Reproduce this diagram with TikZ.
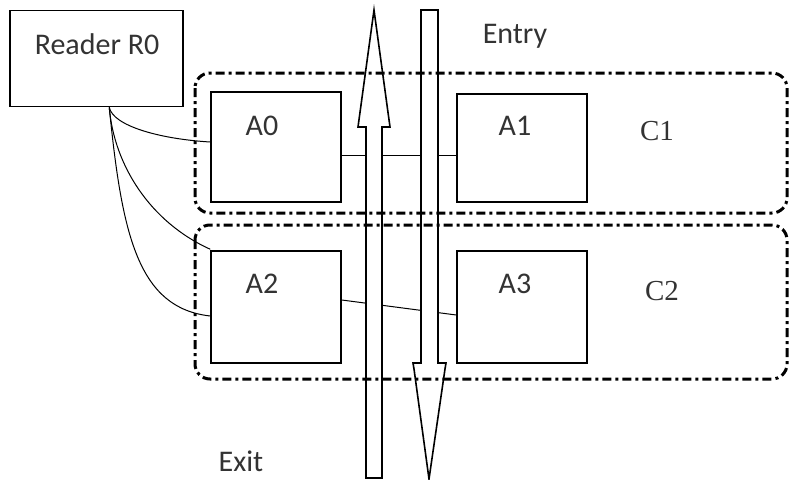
\documentclass[tikz,border=0pt]{standalone}
\usepackage{fontspec}
\setmainfont{Carlito}
\newfontfamily\cserif{Liberation Serif}
\usetikzlibrary{calc}
\tikzset{
  boxnode/.style={draw=black, line width=1.5pt, fill=white, inner sep=0pt},
  lbl/.style={font=\fontsize{30}{32}\selectfont, text=black!80, inner sep=0pt},
  clbl/.style={font=\cserif\fontsize{29}{31}\selectfont, text=black!80, inner sep=0pt},
  wire/.style={draw=black, line width=1pt},
  frame/.style={draw=black, line width=3pt, rounded corners=15pt,
     dash pattern=on 9pt off 4pt on 3pt off 4pt},
  bigarrow/.style={draw=black, line width=1.6pt, fill=white}
}
\begin{document}
\begin{tikzpicture}[x=1pt,y=-1pt]
\useasboundingbox (0,0) rectangle (789,479);
% boxes
\node[boxnode, minimum width=173pt, minimum height=96pt] (R) at (96.5,58.5) {};
\node[lbl] (Rt) at (97,44) {Reader R0};
\node[boxnode, minimum width=130pt, minimum height=110pt] (A0) at (276,147) {};
\node[lbl] (A0t) at (262,126) {A0};
\node[boxnode, minimum width=130pt, minimum height=108pt] (A1) at (522,148) {};
\node[lbl] (A1t) at (515,126) {A1};
\node[boxnode, minimum width=130pt, minimum height=112pt] (A2) at (276,307) {};
\node[lbl] (A2t) at (262,284) {A2};
\node[boxnode, minimum width=130pt, minimum height=112pt] (A3) at (522,307) {};
\node[lbl] (A3t) at (515,284) {A3};
\node[clbl] (C1) at (657,131) {C1};
\node[clbl] (C2) at (662,291) {C2};
\node[lbl] (En) at (515,36) {Entry};
\node[lbl] (Ex) at (241,461) {Exit};
% connector ends
\coordinate (r0) at ($(R.south west)+(100,0)$);
\coordinate (a0w) at ($(A0.west)+(0,-5)$);
\coordinate (a2t) at ($(A2.north west)+(0,-1)$);
\coordinate (a2w) at ($(A2.west)+(0,9)$);
\coordinate (a0e) at ($(A0.east)+(0,8)$);
\coordinate (a1w) at ($(A1.west)+(0,7)$);
\coordinate (a2e) at ($(A2.east)+(0,-7)$);
\coordinate (a3w) at ($(A3.west)+(0,8)$);
% wires
\draw[wire] (r0) .. controls (113,126) and (160,139) .. (a0w);
\draw[wire] (r0) .. controls (114,165) and (150,222) .. (a2t);
\draw[wire] (r0) .. controls (122,235) and (138,308) .. (a2w);
\draw[wire] (a0e) -- (a1w);
\draw[wire] (a2e) -- (a3w);
% big arrows
\draw[bigarrow] (366,478) -- (366,127) -- (358,127) -- (374,10) -- (390,127) -- (382,127) -- (382,478) -- cycle;
\draw[bigarrow] (421,10) -- (438,10) -- (438,363) -- (446,363) -- (445,369) -- (429,479) -- (414,369) -- (413,363) -- (421,363) -- cycle;
% frames
\draw[frame] (195,73) rectangle (787,213);
\draw[frame] (195,225) rectangle (787,379);
\end{tikzpicture}
\end{document}
